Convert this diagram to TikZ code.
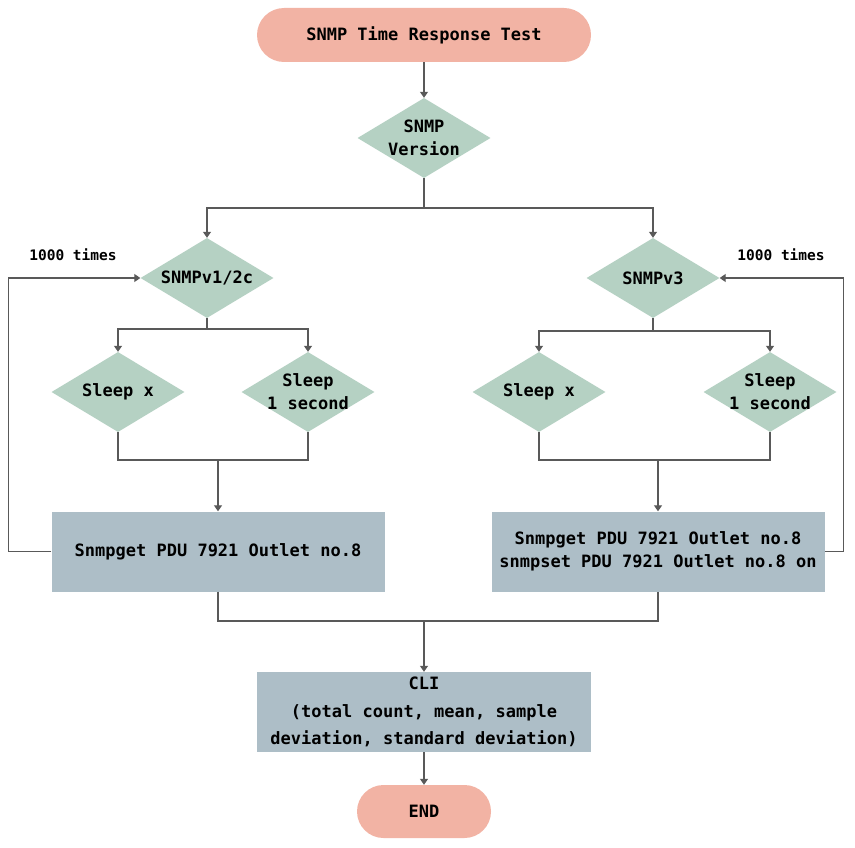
\documentclass[tikz,border=0pt]{standalone}
\usepackage{fontspec}
\setmonofont{DejaVu Sans Mono}
\usetikzlibrary{shapes.geometric,arrows.meta}
\definecolor{termfill}{HTML}{F2B3A4}
\definecolor{decfill}{HTML}{B5D1C3}
\definecolor{procfill}{HTML}{ADBEC7}
\definecolor{linegray}{HTML}{595959}
\begin{document}
\begin{tikzpicture}[x=1pt,y=-1pt,
  every node/.style={font=\ttfamily\bfseries\fontsize{17}{23}\selectfont, text=black, align=center},
  term/.style={rectangle, fill=termfill, inner sep=0pt},
  decision/.style={diamond, fill=decfill, inner sep=0pt, minimum width=133pt, minimum height=80pt},
  dlabel/.style={inner sep=0pt},
  proc/.style={rectangle, fill=procfill, inner sep=0pt, minimum width=333pt, minimum height=80pt},
  note/.style={font=\ttfamily\bfseries\fontsize{14.5}{17}\selectfont, inner sep=0pt},
  conn/.style={draw=linegray, line width=1.2pt},
  arr/.style={conn, -{Triangle[width=8pt,length=6pt]}}
]
\useasboundingbox (0,0) rectangle (855,848);

% start / end terminals
\node[term, minimum width=334pt, minimum height=54pt, rounded corners=27pt] (start) at (424,35) {SNMP Time Response Test};
\node[term, minimum width=134pt, minimum height=53pt, rounded corners=26.5pt] (end) at (424,811.5) {END};

% decisions
\node[decision] (ver) at (424,138) {};
\node[dlabel] (verT) at (ver) {SNMP\\Version};
\node[decision] (v12) at (207,278) {};
\node[dlabel] (v12T) at (v12) {SNMPv1/2c};
\node[decision] (v3) at (653,278) {};
\node[dlabel] (v3T) at (v3) {SNMPv3};
\node[decision] (sxA) at (118,392) {};
\node[dlabel] (sxAT) at (sxA) {Sleep x};
\node[decision] (soA) at (308,392) {};
\node[dlabel] (soAT) at (soA) {Sleep\\1 second};
\node[decision] (sxB) at (539,392) {};
\node[dlabel] (sxBT) at (sxB) {Sleep x};
\node[decision] (soB) at (770,392) {};
\node[dlabel] (soBT) at (soB) {Sleep\\1 second};

% processes
\node[proc] (boxA) at (218,551.5) {Snmpget PDU 7921 Outlet no.8};
\node[proc] (boxB) at (658,551.5) {Snmpget PDU 7921 Outlet no.8\\snmpset PDU 7921 Outlet no.8 on};
\node[proc, minimum width=334pt, font=\ttfamily\bfseries\fontsize{17}{27.5}\selectfont] (cli) at (424,712) {CLI\\(total count, mean, sample\\deviation, standard deviation)};

% loop notes
\node[note] (nA) at (73,255) {1000 times};
\node[note] (nB) at (781,255) {1000 times};

% junction points
\coordinate (j0) at (424,208);
\coordinate (jA) at (207,329);
\coordinate (jB) at (653,331);
\coordinate (kA) at (218,460);
\coordinate (kB) at (658,460);
\coordinate (m) at (424,621);

% connectors
\draw[arr] (start) -- (ver);
\draw[conn] (ver.south) -- (j0);
\draw[arr] (j0) -| (v12.north);
\draw[arr] (j0) -| (v3.north);

\draw[conn] (v12.south) -- (jA);
\draw[arr] (jA) -| (sxA.north);
\draw[arr] (jA) -| (soA.north);
\draw[conn] (v3.south) -- (jB);
\draw[arr] (jB) -| (sxB.north);
\draw[arr] (jB) -| (soB.north);

\draw[conn] (sxA.south) |- (kA) -| (soA.south);
\draw[arr] (kA) -- (boxA.north);
\draw[conn] (sxB.south) |- (kB) -| (soB.south);
\draw[arr] (kB) -- (boxB.north);

\draw[arr] (boxA.west) -- ++(-43,0) |- (v12.west);
\draw[arr] (boxB.east) -- ++(19,0) |- (v3.east);

\draw[conn] (boxA.south) |- (m) -| (boxB.south);
\draw[arr] (m) -- (cli.north);
\draw[arr] (cli) -- (end);
\end{tikzpicture}
\end{document}
